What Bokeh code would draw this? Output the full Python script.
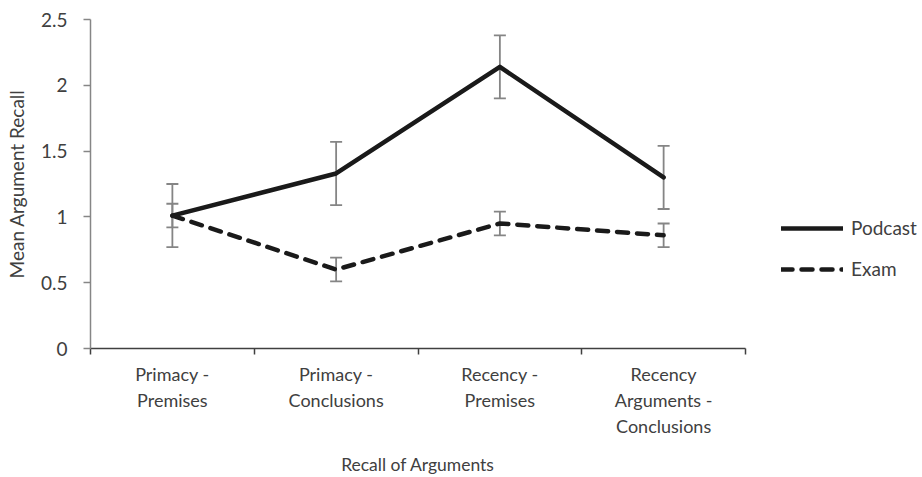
from bokeh.plotting import figure
from bokeh.models import (ColumnDataSource, FixedTicker, Whisker, TeeHead, Legend, LegendItem, Range1d)
from bokeh.embed import file_html
from bokeh.resources import INLINE

categories = ["Primacy -\nPremises", "Primacy -\nConclusions", "Recency -\nPremises", "Recency\nArguments -\nConclusions"]
podcast = [1.01, 1.33, 2.14, 1.30]
podcast_err = [0.24, 0.24, 0.24, 0.24]
exam = [1.01, 0.60, 0.95, 0.86]
exam_err = [0.09, 0.09, 0.09, 0.09]
y_ticks = [0, 0.5, 1, 1.5, 2, 2.5]

FONT = "Lato"
TXT = "#404040"

xs = list(range(1, len(categories) + 1))

p = figure(frame_width=655, frame_height=329, output_backend="svg", toolbar_location=None,
           x_range=Range1d(0.5, len(categories) + 0.5), y_range=Range1d(0, 2.5),
           min_border_left=90, min_border_right=175, min_border_top=19, min_border_bottom=126)
p.outline_line_color = None
p.xgrid.visible = False
p.ygrid.visible = False
p.background_fill_color = "white"
p.border_fill_color = "white"

src_p = ColumnDataSource(dict(x=xs, y=podcast, up=[v + e for v, e in zip(podcast, podcast_err)],
                              lo=[v - e for v, e in zip(podcast, podcast_err)]))
src_e = ColumnDataSource(dict(x=xs, y=exam, up=[v + e for v, e in zip(exam, exam_err)],
                              lo=[v - e for v, e in zip(exam, exam_err)]))

ERR = "#858585"
for src in (src_p, src_e):
    w = Whisker(source=src, base="x", upper="up", lower="lo", line_color=ERR, line_width=1.8,
                upper_head=TeeHead(size=12, line_color=ERR, line_width=1.8),
                lower_head=TeeHead(size=12, line_color=ERR, line_width=1.8))
    p.add_layout(w)

r_pod = p.line("x", "y", source=src_p, line_color="#1a1a1a", line_width=4.5, line_join="round",
               line_cap="round")
r_exam = p.line("x", "y", source=src_e, line_color="#1a1a1a", line_width=4.5, line_dash="11 9",
                line_cap="round", line_join="round")

# axes
p.xaxis.ticker = FixedTicker(ticks=xs, minor_ticks=[x - 0.5 for x in xs] + [xs[-1] + 0.5])
p.xaxis.major_label_overrides = {x: c for x, c in zip(xs, categories)}
p.xaxis.major_tick_out = 0
p.xaxis.major_tick_in = 0
p.xaxis.minor_tick_out = 6
p.xaxis.minor_tick_in = 0
p.xaxis.minor_tick_line_color = "#404040"
p.xaxis.minor_tick_line_width = 1.5
p.xaxis.axis_line_color = "#404040"
p.xaxis.axis_line_width = 1.5
p.xaxis.major_label_standoff = 8
p.xaxis.axis_label = "Recall of Arguments"
p.xaxis.axis_label_standoff = 14
p.xaxis.major_label_text_font = FONT
p.xaxis.major_label_text_font_size = "18px"
p.xaxis.major_label_text_color = TXT
p.xaxis.axis_label_text_font = FONT
p.xaxis.axis_label_text_font_size = "17.5px"
p.xaxis.axis_label_text_font_style = "normal"
p.xaxis.axis_label_text_color = TXT

p.yaxis.ticker = FixedTicker(ticks=y_ticks, minor_ticks=[])
p.yaxis.major_label_overrides = {0: "0", 0.5: "0.5", 1: "1", 1.5: "1.5", 2: "2", 2.5: "2.5"}
p.yaxis.major_tick_out = 7
p.yaxis.major_tick_in = 0
p.yaxis.major_tick_line_color = "#868686"
p.yaxis.major_tick_line_width = 1.5
p.yaxis.axis_line_color = "#868686"
p.yaxis.axis_line_width = 1.5
p.yaxis.major_label_standoff = 16
p.yaxis.axis_label = "Mean Argument Recall"
p.yaxis.axis_label_standoff = 10
p.yaxis.major_label_text_font = FONT
p.yaxis.major_label_text_font_size = "19px"
p.yaxis.major_label_text_color = TXT
p.yaxis.axis_label_text_font = FONT
p.yaxis.axis_label_text_font_size = "19px"
p.yaxis.axis_label_text_font_style = "normal"
p.yaxis.axis_label_text_color = TXT

legend = Legend(items=[LegendItem(label="Podcast", renderers=[r_pod]),
                       LegendItem(label="Exam", renderers=[r_exam])],
                location=(36, 68), orientation="vertical")
legend.glyph_width = 62
legend.glyph_height = 20
legend.label_height = 20
legend.spacing = 18
legend.padding = 0
legend.margin = 0
legend.border_line_color = None
legend.background_fill_alpha = 0
legend.label_text_font = FONT
legend.label_text_font_size = "19px"
legend.label_text_color = TXT
legend.label_standoff = 8
p.add_layout(legend, "right")

open("out.html", "w").write(file_html(p, INLINE))
